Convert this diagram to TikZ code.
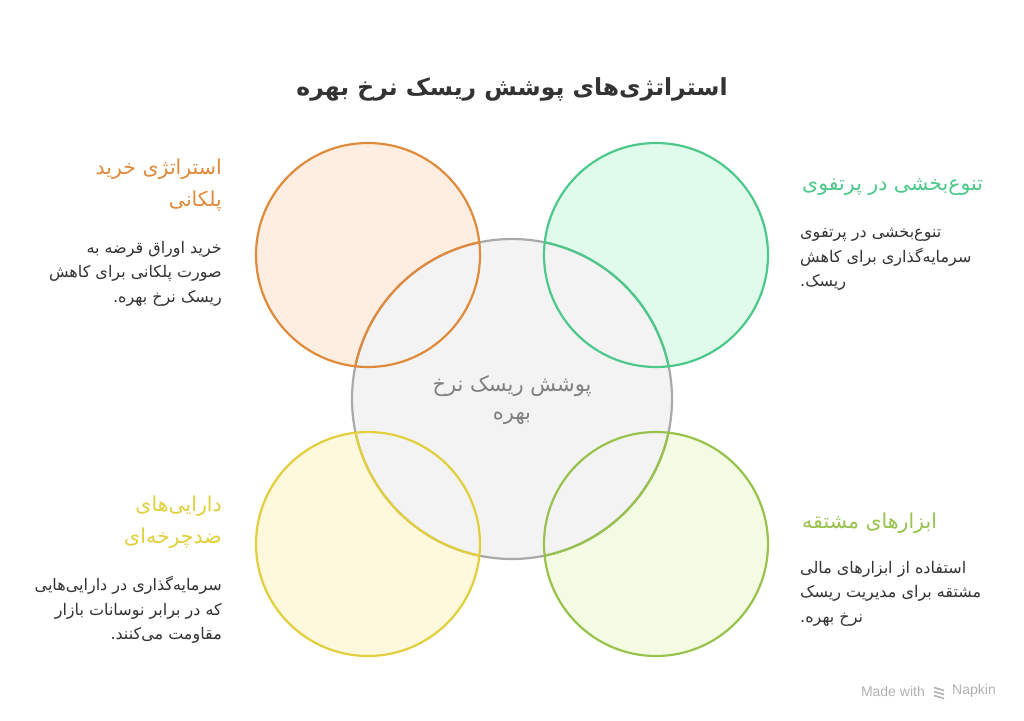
\documentclass[tikz,border=0pt]{standalone}
\usepackage{fontspec}
\setmainfont{Liberation Sans}
\newfontfamily\farsi[Script=Arabic]{DejaVu Sans}
\TeXXeTstate=1
\definecolor{orangeln}{HTML}{E08A3C}
\definecolor{orangebg}{HTML}{FDEEE1}
\definecolor{greenln}{HTML}{4CC98A}
\definecolor{greenbg}{HTML}{E0FBEC}
\definecolor{yellowln}{HTML}{E2CF3C}
\definecolor{yellowbg}{HTML}{FEF8DC}
\definecolor{limeln}{HTML}{98C24C}
\definecolor{limebg}{HTML}{F3FBE2}
\definecolor{centreln}{HTML}{A9A9A9}
\definecolor{centrebg}{HTML}{F3F3F3}
\definecolor{bodytxt}{HTML}{333333}

\begin{document}
\begin{tikzpicture}[x=1pt,y=-1pt]
\tikzset{petale/.style={circle, minimum size=224pt, inner sep=0pt},
  coeur/.style={circle, minimum size=320pt, inner sep=0pt, draw=centreln, fill=centrebg, line width=2.2pt},
  titregauche/.style={anchor=north east, align=right, inner sep=0pt, font=\farsi\fontsize{20.5}{32}\selectfont},
  titredroite/.style={anchor=north west, align=left, inner sep=0pt, font=\farsi\fontsize{20.5}{32}\selectfont},
  textegauche/.style={anchor=north east, align=right, inner sep=0pt, text=bodytxt, font=\farsi\fontsize{16}{24.5}\selectfont},
  textedroite/.style={anchor=north west, align=left, inner sep=0pt, text=bodytxt, font=\farsi\fontsize{16}{24.5}\selectfont}}
\useasboundingbox[fill=white] (0,0) rectangle (1024,720);
\node[petale, fill=orangebg] (P1) at (368,255) {};
\node[petale, fill=greenbg] (P2) at (656,255) {};
\node[petale, fill=yellowbg] (P3) at (368,544) {};
\node[petale, fill=limebg] (P4) at (656,544) {};
\node[coeur] (C) at (512,399) {};
\foreach \p/\c in {P1/orangeln, P2/greenln, P3/yellowln, P4/limeln} {
  \draw[\c, line width=2.2pt] (\p.center) circle (112pt);
  \begin{scope}
    \clip (\p.center) circle (112pt);
    \draw[\c, line width=2.2pt] (C.center) circle (160pt);
  \end{scope}
}
\node[font=\farsi\bfseries\fontsize{23.5}{28}\selectfont, text=bodytxt] (titre) at (512,89) {\beginR استراتژی‌های پوشش ریسک نرخ بهره\endR};
\node[align=center, text=gray, font=\farsi\fontsize{21}{28}\selectfont] (coeurtxt) at (512,400) {\beginR پوشش ریسک نرخ\endR\\\beginR بهره\endR};
\node[titregauche, text=orangeln] (T1) at (222,159) {\beginR استراتژی خرید\endR\\\beginR پلکانی\endR};
\node[textegauche] (B1) at (222,241) {\beginR خرید اوراق قرضه به\endR\\\beginR صورت پلکانی برای کاهش\endR\\\beginR ریسک نرخ بهره.\endR};
\node[titredroite, text=greenln] (T2) at (802,178) {\beginR تنوع‌بخشی در پرتفوی\endR};
\node[textedroite] (B2) at (800,228) {\beginR تنوع‌بخشی در پرتفوی\endR\\\beginR سرمایه‌گذاری برای کاهش\endR\\\beginR ریسک.\endR};
\node[titregauche, text=yellowln] (T3) at (222,496) {\beginR دارایی‌های\endR\\\beginR ضدچرخه‌ای\endR};
\node[textegauche] (B3) at (222,576) {\beginR سرمایه‌گذاری در دارایی‌هایی\endR\\\beginR که در برابر نوسانات بازار\endR\\\beginR مقاومت می‌کنند.\endR};
\node[titredroite, text=limeln] (T4) at (802,513) {\beginR ابزارهای مشتقه\endR};
\node[textedroite] (B4) at (800,561) {\beginR استفاده از ابزارهای مالی\endR\\\beginR مشتقه برای مدیریت ریسک\endR\\\beginR نرخ بهره.\endR};
\node[text=black!30, font=\fontsize{14}{16}\selectfont, anchor=east, inner sep=0pt] (made) at (925,691) {Made with};
\node[text=black!30, font=\fontsize{14}{16}\selectfont, anchor=west, inner sep=0pt] (napkin) at (952,691) {Napkin};
\foreach \k in {-4.5,-0.5,3.5} {
  \draw[black!30, line width=1.6pt] ([xshift=-18pt,yshift=\k pt]napkin.west) -- ++(10pt,-3pt);
}
\end{tikzpicture}
\end{document}
